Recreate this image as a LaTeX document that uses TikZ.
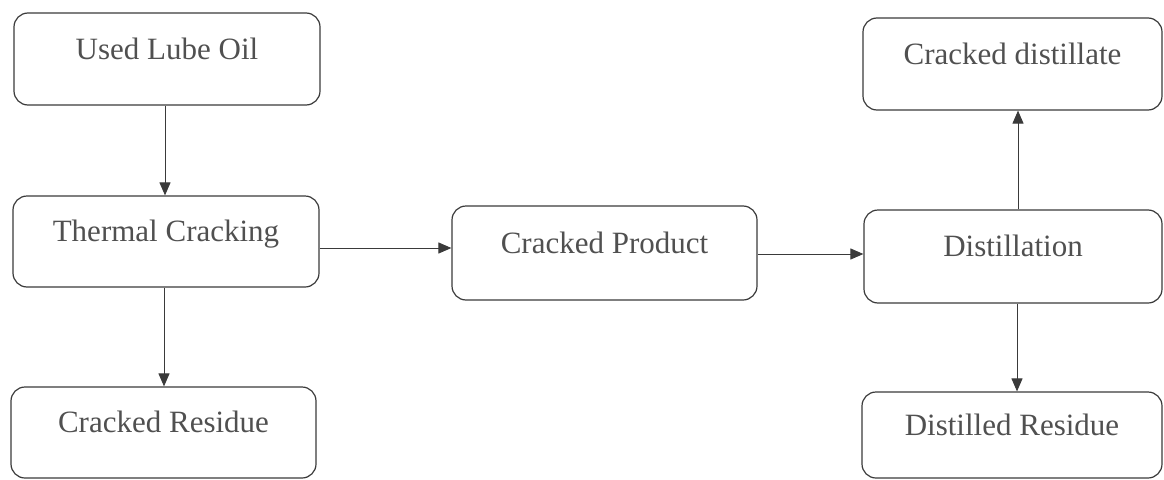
\documentclass[tikz,border=0pt]{standalone}
\usepackage{fontspec}
\setmainfont{Liberation Serif}
\usetikzlibrary{arrows.meta}
\definecolor{linec}{HTML}{3A3A3A}
\definecolor{textc}{HTML}{505050}
\tikzset{
  box/.style={draw=linec, line width=1.2pt, rounded corners=14pt, fill=none,
    inner sep=0pt, text=textc, font=\fontsize{31}{37}\selectfont},
  arr/.style={draw=linec, line width=1pt, -{Triangle[length=13pt,width=11pt]}}
}
\newcommand{\bt}[1]{\raisebox{0pt}[0pt][0pt]{#1}}
\begin{document}
\begin{tikzpicture}[x=1pt,y=-1pt]
\useasboundingbox (0,0) rectangle (1164,479);
\node[box, minimum width=306pt, minimum height=92pt] (A) at (167,59) {\bt{Used Lube Oil}};
\node[box, minimum width=306pt, minimum height=91pt] (B) at (166,241.5) {\bt{Thermal Cracking}};
\node[box, minimum width=305pt, minimum height=91pt] (C) at (163.5,432.5) {\bt{Cracked Residue}};
\node[box, minimum width=305pt, minimum height=94pt] (D) at (604.5,253) {\bt{Cracked Product}};
\node[box, minimum width=299pt, minimum height=92pt] (E) at (1012.5,64) {\bt{Cracked distillate}};
\node[box, minimum width=298pt, minimum height=93pt] (F) at (1013,256.5) {\bt{Distillation}};
\node[box, minimum width=300pt, minimum height=86pt] (G) at (1012,435) {\bt{Distilled Residue}};
\draw[arr] ([xshift=-2pt]A.south) -- ([xshift=-2pt]A.south |- B.north);
\draw[arr] ([xshift=-2pt]B.south) -- ([xshift=-2pt]B.south |- C.north);
\draw[arr] ([yshift=-6.5pt]B.east) -- ([yshift=-6.5pt]B.east -| D.west);
\draw[arr] ([yshift=-1pt]D.east) -- ([yshift=-1pt]D.east -| F.west);
\draw[arr] ([xshift=5pt]F.north) -- ([xshift=5pt]F.north |- E.south);
\draw[arr] ([xshift=4pt]F.south) -- ([xshift=4pt]F.south |- G.north);
\end{tikzpicture}
\end{document}
